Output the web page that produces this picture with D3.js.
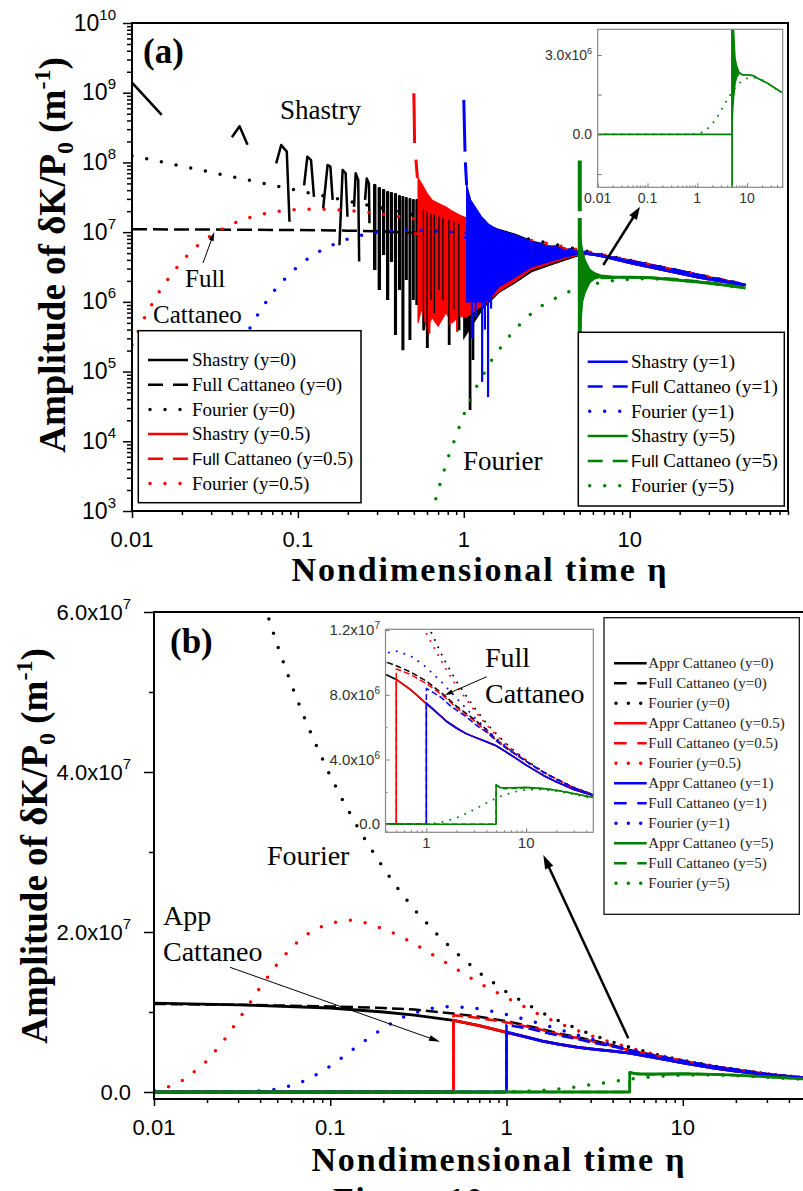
<!DOCTYPE html>
<html><head><meta charset="utf-8">
<script src="https://cdn.jsdelivr.net/npm/d3@7/dist/d3.min.js"></script>
<style>html,body{margin:0;padding:0;background:#fff;}svg{display:block;}</style>
</head><body>
<svg id="fig" width="803" height="1191" xmlns="http://www.w3.org/2000/svg"></svg>
<script>
// ================= DATA =================
const levels = ["0", "0.5", "1", "5"];
const xTicksMajor = [0.01, 0.1, 1, 10];
const yTicksA = [1e3, 1e4, 1e5, 1e6, 1e7, 1e8, 1e9, 1e10];
const yTicksB = [0, 2e7, 4e7, 6e7];
const yMinorB = [1e7, 3e7, 5e7];
const yTicksInsetA = [0, 3e6];
const yMinorInsetA = [-1.5e6, 1.5e6];
const xTicksInsetB = [1, 10];
const yTicksInsetB = [0, 4e6, 8e6, 1.2e7];
const yMinorInsetB = [2e6, 6e6, 1e7];

// Fourier solutions [eta, amplitude]
const fourier0 = [[0.01,1.25e8],[0.015,1.02e8],[0.02,8.84e7],[0.03,7.22e7],[0.04,6.25e7],[0.05,5.59e7],[0.06,5.1e7],[0.07,4.72e7],[0.08,4.42e7],[0.1,3.95e7],[0.12,3.61e7],[0.15,3.23e7],[0.2,2.8e7],[0.25,2.5e7],[0.3,2.28e7],[0.4,1.98e7],[0.5,1.77e7],[0.7,1.49e7],[1,1.25e7],[1.5,1.02e7],[2,8.84e6],[3,7.22e6],[4,6.25e6],[5,5.59e6],[7,4.72e6],[10,3.95e6],[15,3.23e6],[20,2.8e6],[30,2.28e6],[50,1.77e6]];
const fourier05 = [[0.01,2.4e5],[0.012,6.2e5],[0.015,1.58e6],[0.02,3.89e6],[0.025,6.49e6],[0.03,8.99e6],[0.035,1.11e7],[0.04,1.31e7],[0.05,1.6e7],[0.06,1.8e7],[0.07,1.94e7],[0.085,2.05e7],[0.1,2.11e7],[0.125,2.15e7],[0.15,2.13e7],[0.2,2.04e7],[0.25,1.95e7],[0.3,1.85e7],[0.4,1.69e7],[0.5,1.56e7],[0.7,1.36e7],[1,1.18e7],[1.5,9.8e6],[2,8.55e6],[3,7.07e6],[4,6.15e6],[5,5.52e6],[7,4.68e6],[10,3.93e6],[15,3.22e6],[20,2.79e6],[30,2.27e6],[50,1.77e6]];
const fourier1 = [[0.01,0.0017],[0.015,5.9],[0.02,330],[0.022,980],[0.025,3590],[0.03,1.73e4],[0.035,5.28e4],[0.04,1.21e5],[0.05,3.77e5],[0.06,7.9e5],[0.07,1.33e6],[0.08,1.94e6],[0.1,3.24e6],[0.12,4.49e6],[0.15,6.1e6],[0.2,8.0e6],[0.25,9.2e6],[0.3,9.9e6],[0.4,1.06e7],[0.5,1.07e7],[0.7,1.04e7],[1,9.7e6],[1.5,8.64e6],[2,7.8e6],[3,6.64e6],[4,5.87e6],[5,5.32e6],[7,4.56e6],[10,3.85e6],[15,3.18e6],[20,2.76e6],[30,2.26e6],[50,1.76e6]];
const fourier5 = [[0.01,0],[0.3,0.02],[0.5,66],[0.6,481],[0.65,1030],[0.7,1980],[0.8,5660],[1,2.41e4],[1.2,6.24e4],[1.5,1.58e5],[2,3.88e5],[2.5,6.49e5],[3,8.99e5],[4,1.31e6],[5,1.6e6],[6,1.8e6],[7,1.93e6],[8.5,2.06e6],[10,2.11e6],[12.5,2.15e6],[15,2.13e6],[20,2.05e6],[30,1.85e6],[50,1.56e6]];

// Full Cattaneo
const fullC0 = [[0.01,1.1e7],[0.03,1.09e7],[0.1,1.07e7],[0.2,1.05e7],[0.3,1.03e7],[0.5,9.8e6],[0.7,9.4e6],[1,8.85e6],[1.5,8.0e6],[2,7.3e6],[3,6.5e6],[4,5.85e6],[5,5.25e6],[7,4.55e6],[10,3.9e6],[15,3.2e6],[20,2.8e6],[30,2.25e6],[50,1.75e6]];
const fullC05 = [[0.01,0],[0.5,0],[0.5,9.6e6],[0.7,9.25e6],[1,8.7e6],[1.5,7.9e6],[2,7.2e6],[3,6.4e6],[4,5.75e6],[5,5.2e6],[7,4.55e6],[10,3.9e6],[15,3.2e6],[20,2.8e6],[30,2.25e6],[50,1.75e6]];
const fullC1 = [[0.01,0],[1,0],[1,8.4e6],[1.4,7.85e6],[1.75,7.3e6],[2.5,6.65e6],[3.2,6.1e6],[4.2,5.6e6],[5,5.15e6],[7,4.5e6],[10,3.88e6],[15,3.2e6],[20,2.8e6],[30,2.25e6],[50,1.75e6]];
const fullC5 = [[0.01,0],[5,0],[5,2.4e6],[6,2.2e6],[8,2.22e6],[10,2.26e6],[15,2.2e6],[20,2.1e6],[30,1.9e6],[50,1.62e6]];

// Approximate Cattaneo (panel b)
const apprC0 = [[0.01,1.11e7],[0.03,1.09e7],[0.1,1.05e7],[0.2,1.0e7],[0.3,9.6e6],[0.5,8.95e6],[0.7,8.3e6],[1,7.45e6],[1.3,6.85e6],[1.6,6.35e6],[2,5.95e6],[2.5,5.6e6],[3,5.4e6],[4,5.1e6],[5,4.85e6],[6,4.55e6],[8,4.05e6],[10,3.65e6],[15,3.0e6],[20,2.62e6],[30,2.15e6],[50,1.72e6]];
const apprC05 = [[0.01,0],[0.5,0],[0.5,8.95e6],[0.7,8.3e6],[1,7.45e6],[1.3,6.85e6],[1.6,6.35e6],[2,5.95e6],[2.5,5.6e6],[3,5.4e6],[4,5.1e6],[5,4.85e6],[6,4.55e6],[8,4.05e6],[10,3.65e6],[15,3.0e6],[20,2.62e6],[30,2.15e6],[50,1.72e6]];
const apprC1 = [[0.01,0],[1,0],[1,7.5e6],[1.3,6.85e6],[1.6,6.35e6],[2,5.95e6],[2.5,5.6e6],[3,5.4e6],[4,5.1e6],[5,4.85e6],[6,4.55e6],[8,4.05e6],[10,3.65e6],[15,3.0e6],[20,2.62e6],[30,2.15e6],[50,1.72e6]];
const apprC5 = [[0.01,0],[5,0],[5,2.45e6],[5.5,2.25e6],[7,2.25e6],[10,2.28e6],[15,2.2e6],[20,2.1e6],[30,1.9e6],[50,1.62e6]];

// Shastry (panel a), y=0 : sparse segments (null = gap where value is negative)
const shastry0Sparse = [[0.01,1.4e9],[0.0151,4.8e8],null,
 [0.040,2.3e8],[0.0445,3.3e8],[0.0497,1.8e8],null,
 [0.074,9.7e7],[0.0793,1.78e8],[0.0857,1.43e8],[0.089,1.41e7],null,
 [0.109,4.7e7],[0.114,1.21e8],[0.12,1.08e8],[0.125,3.2e7],null,
 [0.142,2.2e7],[0.151,9.2e7],[0.157,8.7e7],[0.162,2.9e7],null,
 [0.178,6.5e6],[0.186,7.8e7],[0.194,7.0e7],[0.199,1.66e7],null,
 [0.218,2.3e7],[0.223,7.0e7],[0.231,5.6e7],[0.234,3.8e6],null,
 [0.254,2.9e7],[0.26,5.9e7],[0.268,5.0e7],[0.27,1.34e7]];
// dense oscillations: [etaLeft, etaRight, peak, trough]
const shastry0Dense = [[0.288,0.293,4.74e7,2.86e6],[0.307,0.312,4.3e7,1.48e6],[0.326,0.331,4.02e7,4.69e6],[0.345,0.35,3.76e7,1.06e6],[0.364,0.369,3.64e7,3.72e6],[0.385,0.39,3.52e7,3.34e5],[0.407,0.412,3.3e7,1.48e6],[0.427,0.432,3.19e7,2.03e5],[0.448,0.453,3.08e7,2.05e6],[0.471,0.476,2.99e7,2.83e5],[0.494,0.499,2.89e7,1.06e6],[0.518,0.523,2.89e7,9.0e5],[0.544,0.549,2.79e7,2.86e6],[0.571,0.576,2.61e7,3.9e5],[0.6,0.606,2.45e7,2.17e5],[0.634,0.64,2.29e7,1.06e6],[0.665,0.671,2.22e7,6.9e5],[0.708,0.715,2.07e7,1.48e6],[0.748,0.755,2.01e7,1.06e6],[0.813,0.82,1.88e7,2.4e5],[0.871,0.879,1.76e7,7.6e5],[0.933,0.94,1.65e7,3.9e5],[1.0,1.008,1.59e7,1.06e6],[1.087,1.095,1.49e7,2.8e4],[1.133,1.14,1.44e7,1.46e5]];
// oscillation envelopes [eta, lower, upper]
const shastry0Band = [[1.0,3e5,1.5e7],[1.3,8e5,1.3e7],[1.62,1.35e6,1.1e7],[2.05,1.9e6,9.3e6],[2.56,2.7e6,7.5e6],[3.24,3.3e6,6.4e6],[4.1,4.0e6,5.7e6],[4.9,4.6e6,5.3e6],[5.5,4.8e6,5.0e6]];
const shastry05Lines = [[0.5,9.8e8],[0.503,4e8],[0.505,1.9e8],null,[0.515,1.1e8],[0.525,6.0e7]];
const shastry05Band = [[0.53,5e5,6e7],[0.556,8e5,5.0e7],[0.6,4e5,3.6e7],[0.643,6e5,2.9e7],[0.7,4.5e5,2.6e7],[0.78,7e5,2.3e7],[0.85,5e5,2.0e7],[0.95,6.5e5,1.75e7],[1.03,6e5,1.6e7],[1.3,9e5,1.25e7],[1.62,1.4e6,1.05e7],[2.05,2.0e6,8.6e6],[2.56,2.9e6,7.0e6],[3.24,3.5e6,6.2e6],[4.1,4.2e6,5.7e6],[4.9,4.7e6,5.4e6],[5.5,4.85e6,5.0e6]];
const shastry05Spikes = [[0.62,3e7,3.5e5],[0.75,2.3e7,6e5],[0.82,2.1e7,4.5e5],[0.88,1.9e7,7e5],[0.912,1.8e7,3.7e5],[0.97,1.7e7,6e5]];
const shastry1Lines = [[1.0,7.9e8],[1.008,3.5e8],[1.017,1.43e8],null,[1.022,1.0e8],[1.04,4.7e7]];
const shastry1Band = [[1.04,1.0e6,4.74e7],[1.10,1.0e6,2.89e7],[1.28,1.0e6,1.66e7],[1.41,1.06e6,1.3e7],[1.62,1.63e6,1.07e7],[2.05,2.27e6,9.1e6],[2.56,3.16e6,7.3e6],[3.24,3.73e6,6.17e6],[4.1,4.4e6,5.5e6],[4.9,4.85e6,5.13e6],[5.3,4.95e6,5.05e6]];
const shastry1Spikes = [[1.12,2.5e7,3e5],[1.18,2e7,6e5],[1.29,1.6e7,7.1e4],[1.34,1.5e7,4e5],[1.40,1.3e7,4.3e4],[1.46,1.2e7,8e5]];
const shastryTail = [[5.3,5.0e6],[6.5,4.7e6],[10.3,3.6e6],[16.3,2.86e6],[25.8,2.27e6],[49,1.74e6]];
const shastry5Lines = [[0.01,0],[4.99,0],[5.0,1.07e8],[5.0,2.0e7],null,[5.0,1.6e7],[5.005,3.5e5],[5.01,-2.5e6],[5.02,3.9e6]];
const shastry5Band = [[5.02,3.5e5,9.7e6],[5.2,1.0e6,5.5e6],[5.38,1.35e6,4.0e6],[5.76,1.9e6,2.9e6],[6.18,2.15e6,2.6e6],[6.78,2.25e6,2.4e6]];
const shastry5Tail = [[6.78,2.35e6],[8,2.25e6],[10.3,2.25e6],[13.3,2.22e6],[16.3,2.12e6],[25.8,1.93e6],[35,1.77e6],[50,1.58e6]];

const legendA1 = ["Shastry (y=0)","Full Cattaneo (y=0)","Fourier (y=0)","Shastry (y=0.5)","Full Cattaneo (y=0.5)","Fourier (y=0.5)"];
const legendA2 = ["Shastry (y=1)","Full Cattaneo (y=1)","Fourier (y=1)","Shastry (y=5)","Full Cattaneo (y=5)","Fourier (y=5)"];
const legendB = ["Appr Cattaneo (y=0)","Full Cattaneo (y=0)","Fourier (y=0)","Appr Cattaneo (y=0.5)","Full Cattaneo (y=0.5)","Fourier (y=0.5)","Appr Cattaneo (y=1)","Full Cattaneo (y=1)","Fourier (y=1)","Appr Cattaneo (y=5)","Full Cattaneo (y=5)","Fourier (y=5)"];

// ================= DRAWING =================
const SERIF = "'Liberation Serif','Times New Roman',serif";
const SANS = "'Liberation Sans',Arial,sans-serif";
const COL = {"0":"#000000","0.5":"#ff0000","1":"#0000ff","5":"#008000"};
const svg = d3.select('#fig');
svg.append('rect').attr('width',803).attr('height',1191).attr('fill','#fff');

const xA = d3.scaleLog().domain([0.01,90]).range([132,788]);
const yA = d3.scaleLog().domain([1e3,1e10]).range([511,23]);
const xB = d3.scaleLog().domain([0.01,50]).range([154,806]);
const yB = d3.scaleLinear().domain([-8.75e5,6e7]).range([1099,612]);
const xIA = d3.scaleLog().domain([0.01,52]).range([597.7,782.7]);
const yIA = d3.scaleLinear().domain([-2e6,3.97e6]).range([187.3,29.3]);
const xIB = d3.scaleLog().domain([0.39,47]).range([385.5,593.3]);
const yIB = d3.scaleLinear().domain([-5e5,1.205e7]).range([832.3,629.3]);

const defs = svg.append('defs');
function clip(id, x, y){ const r=x.range(), s=y.range();
  defs.append('clipPath').attr('id',id).append('rect')
   .attr('x',Math.min(r[0],r[1])).attr('y',Math.min(s[0],s[1]))
   .attr('width',Math.abs(r[1]-r[0])).attr('height',Math.abs(s[1]-s[0])); }
clip('cA',xA,yA); clip('cB',xB,yB); clip('cIA',xIA,yIA); clip('cIB',xIB,yIB);

function mkLine(x,y,log){ return d3.line().defined(d=>d!=null && isFinite(d[1]) && (!log || d[1]>0)).x(d=>x(d[0])).y(d=>y(d[1])); }
function stroke(g, d, color, w, dash){
  const p = g.append('path').attr('d',d).attr('fill','none').attr('stroke',color).attr('stroke-width',w).attr('stroke-linejoin','round');
  if(dash){ p.attr('stroke-dasharray',dash); if(dash.startsWith('0,')) p.attr('stroke-linecap','round'); }
  return p; }
function band(g, data, x, y, color){
  g.append('path').attr('d', d3.area().x(d=>x(d[0])).y0(d=>y(d[1])).y1(d=>y(d[2]))(data))
   .attr('fill',color).attr('stroke',color).attr('stroke-width',1.2); }
function vspikes(g, data, x, y, color, w){
  const ln = mkLine(x,y,true);
  data.forEach(d=> stroke(g, ln([[d[0],d[1]],[d[0],d[2]]]), color, w)); }
function nspikes(g, data, x, y, color, w){
  const ln = mkLine(x,y,true);
  data.forEach(d=> stroke(g, ln([[d[0],d[3]],[d[0],d[2]],[d[1],d[2]],[d[1],d[3]]]), color, w)); }
function axisTicks(g, axisFn, scale, vals, size, tx, ty, color, w){
  g.append('g').attr('transform',`translate(${tx},${ty})`)
   .call(axisFn(scale).tickValues(vals).tickSize(size).tickFormat(()=>''))
   .call(s=>{ s.select('.domain').remove(); s.selectAll('line').attr('stroke',color||'#000').attr('stroke-width',w||1.5); s.selectAll('text').remove(); }); }
function logMinor(lo, hi){ const out=[]; for(let e=Math.floor(Math.log10(lo)); e<=Math.ceil(Math.log10(hi)); e++){ for(let m=2;m<=9;m++){ const v=+(m*Math.pow(10,e)).toPrecision(6); if(v>=lo*0.999 && v<=hi*1.001) out.push(v);} } return out; }
function sciText(g, v, x, y, fs, sfs, sdy, color, anchor){
  const t = g.append('text').attr('x',x).attr('y',y).attr('font-family',SANS).attr('font-size',fs).attr('fill',color||'#000').attr('text-anchor',anchor||'end');
  if(v===0){ t.text('0.0'); return; }
  const e = Math.floor(Math.log10(Math.abs(v))+1e-9); const m = v/Math.pow(10,e);
  t.append('tspan').text(m.toFixed(1)+'x10');
  t.append('tspan').attr('font-size',sfs).attr('dy',sdy).text(e); }
function arrow(g, x1,y1,x2,y2,w,hl,hw){
  const a=Math.atan2(y2-y1,x2-x1), ux=Math.cos(a), uy=Math.sin(a);
  g.append('line').attr('x1',x1).attr('y1',y1).attr('x2',x2-ux*hl*0.8).attr('y2',y2-uy*hl*0.8).attr('stroke','#000').attr('stroke-width',w);
  const bx=x2-ux*hl, by=y2-uy*hl;
  g.append('path').attr('d',`M${x2},${y2}L${bx-uy*hw/2},${by+ux*hw/2}L${bx+uy*hw/2},${by-ux*hw/2}Z`).attr('fill','#000'); }

// ---------- PANEL (a) ----------
const gA = svg.append('g').attr('clip-path','url(#cA)');
const lA = mkLine(xA,yA,true);
const W=2.5, DASH_A='15,6', DOT_A='0,15';
// y = 0
stroke(gA, lA(fullC0), COL["0"], W, DASH_A);
stroke(gA, lA(fourier0), COL["0"], 3.5, DOT_A);
stroke(gA, lA(shastry0Sparse), COL["0"], W);
nspikes(gA, shastry0Dense, xA, yA, COL["0"], 2.2);
band(gA, shastry0Band, xA, yA, COL["0"]);
stroke(gA, lA(shastryTail), COL["0"], 3);
// y = 0.5
stroke(gA, lA(fullC05), COL["0.5"], W, DASH_A);
stroke(gA, lA(fourier05), COL["0.5"], 3.5, DOT_A);
band(gA, shastry05Band, xA, yA, COL["0.5"]);
stroke(gA, lA(shastry05Lines), COL["0.5"], 3);
vspikes(gA, shastry05Spikes, xA, yA, COL["0.5"], 2.2);
// the y=0 oscillations interleaved inside the y=0.5 band
vspikes(gA, shastry0Dense.filter(d=>d[0]>0.56 && d[0]<1).map(d=>[d[0],d[2]*0.8,d[3]]), xA, yA, COL["0"], 1.3);
stroke(gA, lA(shastryTail), COL["0.5"], 3);
// y = 1
stroke(gA, lA(fullC1), COL["1"], W, DASH_A);
stroke(gA, lA(fourier1), COL["1"], 3.5, DOT_A);
band(gA, shastry1Band, xA, yA, COL["1"]);
stroke(gA, lA(shastry1Lines), COL["1"], 3);
vspikes(gA, shastry1Spikes, xA, yA, COL["1"], 2.2);
stroke(gA, lA(shastryTail), COL["1"], 3);
// y = 5
stroke(gA, lA(fullC5), COL["5"], W, DASH_A);
stroke(gA, lA(fourier5), COL["5"], 3.5, DOT_A);
stroke(gA, lA(shastry5Lines), COL["5"], 4);
band(gA, shastry5Band, xA, yA, COL["5"]);
stroke(gA, lA(shastry5Tail), COL["5"], 3);

// frame & ticks (a)
const axA = svg.append('g');
axisTicks(axA, d3.axisLeft, yA, yTicksA, 9, 132, 0);
axisTicks(axA, d3.axisLeft, yA, logMinor(1e3,1e10), 5, 132, 0);
axisTicks(axA, d3.axisBottom, xA, xTicksMajor, 7, 0, 511);
axisTicks(axA, d3.axisBottom, xA, logMinor(0.01,90), 4, 0, 511);
axA.append('rect').attr('x',132).attr('y',23).attr('width',656).attr('height',488).attr('fill','none').attr('stroke','#000').attr('stroke-width',2);
yTicksA.forEach(v=>{
  const t = axA.append('text').attr('x',116).attr('y',yA(v)+7.5).attr('text-anchor','end').attr('font-family',SANS).attr('font-size',23);
  t.append('tspan').text('10');
  t.append('tspan').attr('font-size',15).attr('dy',-11).text(Math.round(Math.log10(v)));
});
xTicksMajor.forEach(v=> axA.append('text').attr('x',xA(v)).attr('y',546.5).attr('text-anchor','middle').attr('font-family',SANS).attr('font-size',22).text(String(v)));

// legends
function legend(g, labels, lvls, box, rowY, rowH, sx1, sx2, tx, fs, dashPat, dotPat, lw, tcolor, sansFull){
  g.append('rect').attr('x',box[0]).attr('y',box[1]).attr('width',box[2]-box[0]).attr('height',box[3]-box[1]).attr('fill','#fff').attr('stroke','#000').attr('stroke-width',box[4]);
  labels.forEach((lab,i)=>{
    const y = rowY + i*rowH, lv = lvls[Math.floor(i/3)], kind = i%3;
    const p = g.append('line').attr('x1', kind===2 ? sx1+2 : sx1).attr('x2', sx2).attr('y1',y).attr('y2',y).attr('stroke',COL[lv]).attr('stroke-width', kind===2 ? lw+1 : lw);
    if(kind===1) p.attr('stroke-dasharray',dashPat);
    if(kind===2) p.attr('stroke-dasharray',dotPat).attr('stroke-linecap','round');
    const t = g.append('text').attr('x',tx).attr('y',y+fs*0.33).style('font-family',SERIF).attr('font-size',fs).attr('fill',tcolor);
    if(sansFull && lab.startsWith('Full') && lv!=='0'){
      t.append('tspan').style('font-family',SANS).attr('font-size',fs*0.9).text('Full');
      t.append('tspan').style('font-family',SERIF).text(lab.slice(4));
    } else t.text(lab);
  });
}
legend(svg, legendA1, ["0","0.5"], [138.3,330.7,361,502.7,1.5], 360, 24.7, 148, 188, 192, 19, '15,10', '0,15', 2.5, '#000', true);
legend(svg, legendA2, ["1","5"], [578.3,332.3,784.3,506,1.5], 361.7, 24.8, 587.7, 627.7, 631, 19, '15,10', '0,15', 2.5, '#000', true);

// inset (a)
const iA = svg.append('g');
iA.append('rect').attr('x',597.7).attr('y',29.3).attr('width',185).attr('height',158).attr('fill','#fff');
const giA = iA.append('g').attr('clip-path','url(#cIA)');
const lIA = mkLine(xIA,yIA,false);
stroke(giA, lIA(fourier5), COL["5"], 2, '0,8');
stroke(giA, lIA(shastry5Lines), COL["5"], 1.8);
band(giA, shastry5Band, xIA, yIA, COL["5"]);
stroke(giA, lIA(shastry5Tail), COL["5"], 1.8);
axisTicks(iA, d3.axisBottom, xIA, xTicksMajor, -4, 0, 187.3, '#777', 1);
axisTicks(iA, d3.axisBottom, xIA, logMinor(0.01,52), -2, 0, 187.3, '#777', 1);
axisTicks(iA, d3.axisLeft, yIA, yTicksInsetA.concat(yMinorInsetA), -4, 597.7, 0, '#777', 1);
iA.append('rect').attr('x',597.7).attr('y',29.3).attr('width',185).attr('height',158).attr('fill','none').attr('stroke','#888').attr('stroke-width',1.2);
yTicksInsetA.forEach(v=> sciText(iA, v, 592, yIA(v)+5, 14, 9, -6, '#333'));
xTicksMajor.forEach(v=> iA.append('text').attr('x',xIA(v)).attr('y',203.3).attr('text-anchor','middle').attr('font-family',SANS).attr('font-size',14).attr('fill','#333').text(String(v)));

// annotations (a)
const anA = svg.append('g').attr('font-family',SERIF).attr('fill','#000');
anA.append('text').attr('x',143).attr('y',63).attr('font-size',35).attr('font-weight','bold').text('(a)');
anA.append('text').attr('x',280).attr('y',119).attr('font-size',27).text('Shastry');
anA.append('text').attr('x',185).attr('y',287).attr('font-size',25).text('Full');
anA.append('text').attr('x',153).attr('y',323).attr('font-size',25).text('Cattaneo');
anA.append('text').attr('x',463).attr('y',470).attr('font-size',27).text('Fourier');
arrow(anA, 203,263, 214.3,232, 1, 9, 5);
arrow(anA, 603.3,265, 640,206.7, 2.5, 13, 9);
// axis titles (a)
anA.append('text').attr('x',479).attr('y',581).attr('text-anchor','middle').attr('font-size',34).attr('font-weight','bold').attr('textLength',375).attr('lengthAdjust','spacing').text('Nondimensional time η');
function yTitle(x, y){
  const t = svg.append('text').attr('transform',`translate(${x},${y}) rotate(-90)`).attr('text-anchor','middle').attr('font-family',SERIF).attr('font-weight','bold').attr('font-size',37);
  t.append('tspan').text('Amplitude of δK/P');
  t.append('tspan').attr('font-size',24).attr('dy',8).text('0');
  t.append('tspan').attr('dy',-8).text(' (m');
  t.append('tspan').attr('font-size',24).attr('dy',-15).text('-1');
  t.append('tspan').attr('dy',15).text(')');
}
yTitle(65, 255);

// ---------- PANEL (b) ----------
const gB = svg.append('g').attr('clip-path','url(#cB)');
const lB = mkLine(xB,yB,false);
const seriesB = [[apprC0,fullC0,fourier0],[apprC05,fullC05,fourier05],[apprC1,fullC1,fourier1],[apprC5,fullC5,fourier5]];
seriesB.forEach((s,i)=>{
  const c = COL[levels[i]];
  stroke(gB, lB(s[2]), c, 3.5, '0,15');
  stroke(gB, lB(s[1]), c, 2.5, '12,5');
  stroke(gB, lB(s[0]), c, 2.8);
});
const axB = svg.append('g');
axisTicks(axB, d3.axisLeft, yB, yTicksB, 10, 154, 0);
axisTicks(axB, d3.axisLeft, yB, yMinorB, 5, 154, 0);
axisTicks(axB, d3.axisBottom, xB, xTicksMajor, 7, 0, 1099);
axisTicks(axB, d3.axisBottom, xB, logMinor(0.01,50), 4, 0, 1099);
axB.append('rect').attr('x',154).attr('y',612).attr('width',652).attr('height',487).attr('fill','none').attr('stroke','#000').attr('stroke-width',2);
yTicksB.forEach(v=> sciText(axB, v, 131, yB(v)+7.5, 22, 15, -11, '#000'));
xTicksMajor.forEach(v=> axB.append('text').attr('x',xB(v)).attr('y',1135).attr('text-anchor','middle').attr('font-family',SANS).attr('font-size',22).text(String(v)));

// inset (b)
const iB = svg.append('g');
iB.append('rect').attr('x',385.5).attr('y',629.3).attr('width',207.8).attr('height',203).attr('fill','#fff');
const giB = iB.append('g').attr('clip-path','url(#cIB)');
const lIB = mkLine(xIB,yIB,false);
seriesB.forEach((s,i)=>{
  const c = COL[levels[i]];
  stroke(giB, lIB(s[2]), c, 2, '0,8');
  stroke(giB, lIB(s[1]), c, 1.5, '6,3');
  stroke(giB, lIB(s[0]), c, 1.6);
});
axisTicks(iB, d3.axisBottom, xIB, xTicksInsetB, -4, 0, 832.3, '#777', 1);
axisTicks(iB, d3.axisBottom, xIB, logMinor(0.39,47), -2, 0, 832.3, '#777', 1);
axisTicks(iB, d3.axisLeft, yIB, yTicksInsetB, -4, 385.5, 0, '#777', 1);
axisTicks(iB, d3.axisLeft, yIB, yMinorInsetB, -2, 385.5, 0, '#777', 1);
iB.append('rect').attr('x',385.5).attr('y',629.3).attr('width',207.8).attr('height',203).attr('fill','none').attr('stroke','#888').attr('stroke-width',1.2);
yTicksInsetB.forEach(v=> sciText(iB, v, 380, yIB(v)+5, 15, 10, -6, '#333'));
xTicksInsetB.forEach(v=> iB.append('text').attr('x',xIB(v)).attr('y',848.3).attr('text-anchor','middle').attr('font-family',SANS).attr('font-size',15).attr('fill','#333').text(String(v)));

legend(svg, legendB, levels, [604,617.7,799.3,914.3,1.2], 663.3, 20, 614, 646.7, 648.3, 15, '12.7,10.6', '0,12.35', 2.5, '#222', false);

const anB = svg.append('g').attr('font-family',SERIF).attr('fill','#000');
anB.append('text').attr('x',170).attr('y',653).attr('font-size',35).attr('font-weight','bold').text('(b)');
anB.append('text').attr('x',267).attr('y',865).attr('font-size',28).text('Fourier');
anB.append('text').attr('x',163).attr('y',925).attr('font-size',28).text('App');
anB.append('text').attr('x',163).attr('y',961).attr('font-size',28).text('Cattaneo');
anB.append('text').attr('x',485).attr('y',667).attr('font-size',28).text('Full');
anB.append('text').attr('x',485).attr('y',703).attr('font-size',28).text('Cattaneo');
arrow(anB, 230,967.3, 440,1041.7, 1, 11, 6);
arrow(anB, 628.3,1038.3, 543.3,855, 2.5, 14, 9);
arrow(anB, 486.7,676.7, 445,695, 1, 8, 5);
anB.append('text').attr('x',498).attr('y',1171).attr('text-anchor','middle').attr('font-size',34).attr('font-weight','bold').attr('textLength',373).attr('lengthAdjust','spacing').text('Nondimensional time η');
anB.append('text').attr('x',333).attr('y',1211).attr('font-size',34).attr('font-weight','bold').attr('textLength',150).attr('lengthAdjust','spacing').text('Figure 10');
yTitle(47, 846);
</script></body></html>
